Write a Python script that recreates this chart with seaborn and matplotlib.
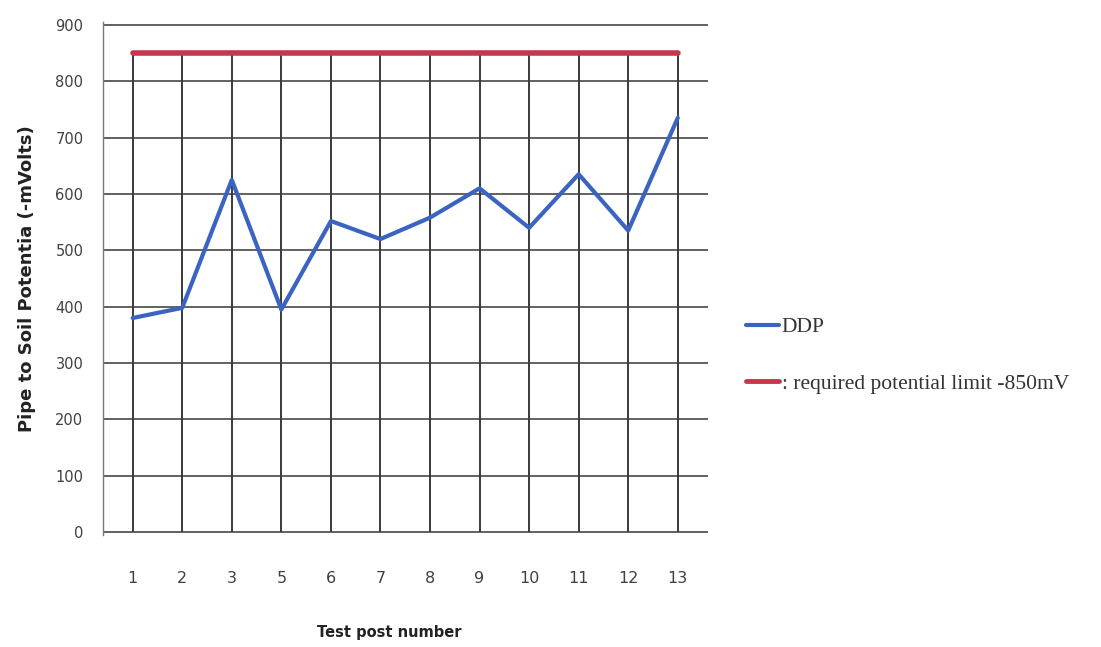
import matplotlib
matplotlib.use("Agg")
import matplotlib.pyplot as plt
import seaborn as sns
import pandas as pd
from matplotlib.lines import Line2D

# Test posts (post 4 was not measured)
test_posts = ["1", "2", "3", "5", "6", "7", "8", "9", "10", "11", "12", "13"]
# Measured pipe-to-soil potential, -mV
ddp_values = [380, 398, 625, 395, 552, 520, 558, 610, 540, 635, 535, 735]
# Protection criterion, -mV
required_limit = 850

y_ticks = [0, 100, 200, 300, 400, 500, 600, 700, 800, 900]

sns.set_theme(style="white")
plt.rcParams["font.family"] = ["DejaVu Sans"]

pos = list(range(len(test_posts)))
df = pd.DataFrame({
    "pos": pos + pos,
    "value": ddp_values + [required_limit] * len(pos),
    "series": ["DDP"] * len(pos) + ["limit"] * len(pos),
})

fig = plt.figure(figsize=(11.01, 6.47), dpi=100)
ax = fig.add_axes([0.0935, 0.173, 0.55, 0.793])

grid_c = "#3a3a3a"
# horizontal grid lines
for yv in y_ticks:
    ax.axhline(yv, color="#555555", lw=1.3, zorder=1)
# vertical drop lines at each test post, up to the limit line
ax.vlines(pos, 0, required_limit, color=grid_c, lw=1.4, zorder=1)

sns.lineplot(data=df, x="pos", y="value", hue="series",
             palette={"DDP": "#3a64c0", "limit": "#c9364b"},
             ax=ax, legend=False, linewidth=3.2, zorder=3)
for ln, w in zip(ax.get_lines()[-2:], [3.0, 4.0]):
    ln.set_linewidth(w)

ax.set_xlim(-0.6, len(pos) - 1 + 0.62)
ax.set_ylim(-5, 905)
ax.set_yticks(y_ticks)
ax.set_yticklabels([str(v) for v in y_ticks], fontsize=10.5, color="#404040")
ax.set_xticks(pos)
ax.set_xticklabels(test_posts, fontsize=11.5, color="#404040")
ax.tick_params(axis="x", pad=26, length=0)
ax.tick_params(axis="y", pad=14, length=0)
for s in ["top", "right", "bottom"]:
    ax.spines[s].set_visible(False)
ax.spines["left"].set_color("#777777")
ax.spines["left"].set_linewidth(1.0)

ax.set_xlabel("Test post number", fontsize=10.5, fontweight="bold", labelpad=28, color="#222222")
ax.xaxis.set_label_coords(0.473, -0.175)
ax.set_ylabel("Pipe to Soil Potentia (-mVolts)", fontsize=13, fontweight="bold",
              labelpad=14, color="#222222")

handles = [Line2D([], [], color="#3a64c0", lw=3),
           Line2D([], [], color="#c9364b", lw=3.5)]
fig.legend(handles, ["DDP", ": required potential limit -850mV"],
           loc="upper left", bbox_to_anchor=(0.66, 0.54), frameon=False,
           prop={"family": "Liberation Serif", "size": 15.5},
           handlelength=1.55, handletextpad=0.1, labelspacing=1.7,
           labelcolor="#333333")

fig.savefig("out.png", dpi=100, facecolor="white")
